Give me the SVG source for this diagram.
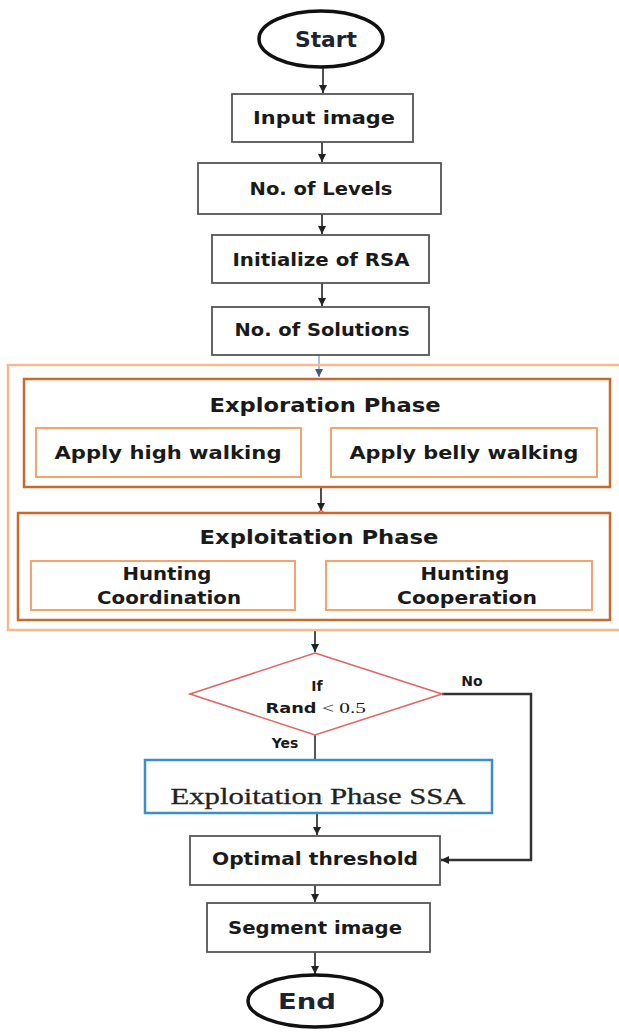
<svg xmlns="http://www.w3.org/2000/svg" width="619" height="1035" viewBox="0 0 619 1035">
<defs>
<marker id="ah" viewBox="0 0 10 10" refX="10" refY="5" markerWidth="8" markerHeight="8" markerUnits="userSpaceOnUse" orient="auto">
<path d="M0,0 L10,5 L0,10 z" fill="#222"/>
</marker>
<marker id="ahb" viewBox="0 0 10 10" refX="10" refY="5" markerWidth="8" markerHeight="8" markerUnits="userSpaceOnUse" orient="auto">
<path d="M0,0 L10,5 L0,10 z" fill="#3d5a8a"/>
</marker>
<style>
.box{fill:#fff;stroke:#555;stroke-width:1.8}
.term{fill:#fff;stroke:#111;stroke-width:3.5}
.outer{fill:none;stroke:#f6b98e;stroke-width:2.5}
.phase{fill:#fff;stroke:#c8692e;stroke-width:2.5}
.sub{fill:#fff;stroke:#f4a46a;stroke-width:2}
.dia{fill:#fff;stroke:#e06666;stroke-width:1.6}
.blue{fill:#fff;stroke:#3b8fc8;stroke-width:2.5}
.t{font-family:"DejaVu Sans",sans-serif;font-weight:bold;font-size:17px;fill:#1a1a1a;text-anchor:middle}
.tl{font-family:"DejaVu Sans",sans-serif;font-weight:bold;font-size:19px;fill:#1a1a1a;text-anchor:middle}
.tt{font-family:"DejaVu Sans",sans-serif;font-weight:bold;font-size:22px;fill:#1c2333;text-anchor:middle}
.ts{font-family:"DejaVu Sans",sans-serif;font-weight:bold;font-size:14px;fill:#1a1a1a;text-anchor:middle}
.serif{font-family:"Liberation Serif",serif;font-size:24px;fill:#222;text-anchor:middle;stroke:#222;stroke-width:0.3}
.c{fill:none;stroke:#222;stroke-width:1.6}
</style>
</defs>

<g id="connectors">
<line class="c" x1="323" y1="68" x2="323" y2="93" marker-end="url(#ah)"/>
<line class="c" x1="322" y1="142" x2="322" y2="162" marker-end="url(#ah)"/>
<line class="c" x1="322" y1="214" x2="322" y2="234" marker-end="url(#ah)"/>
<line class="c" x1="322" y1="283" x2="322" y2="306" marker-end="url(#ah)"/>
<line x1="319" y1="355" x2="319" y2="377" stroke="#9bb0cc" stroke-width="1.6" marker-end="url(#ahb)"/>
<line class="c" x1="321" y1="487" x2="321" y2="511" marker-end="url(#ah)"/>
<path d="M317,514 L321,510 L325,514" fill="none" stroke="#e04040" stroke-width="1.2"/>
<line class="c" x1="301" y1="452" x2="329" y2="452" marker-end="url(#ah)"/>
<line x1="295" y1="587" x2="325" y2="587" stroke="#888" stroke-width="1.8" marker-end="url(#ah)"/>
<line class="c" x1="315" y1="631" x2="315" y2="652" marker-end="url(#ah)"/>
<line x1="315" y1="735" x2="315" y2="760" stroke="#444" stroke-width="1.8"/>
<path d="M442,694 L531,694 L531,860 L441,860" fill="none" stroke="#333" stroke-width="2.5" marker-end="url(#ah)"/>
<line class="c" x1="317" y1="813" x2="317" y2="835" marker-end="url(#ah)"/>
<line class="c" x1="315" y1="885" x2="315" y2="902" marker-end="url(#ah)"/>
<line class="c" x1="315" y1="952" x2="315" y2="974" marker-end="url(#ah)"/>
</g>

<g id="start">
<ellipse class="term" cx="321" cy="39" rx="62" ry="28"/>
<text class="tt" x="326" y="47" textLength="62" lengthAdjust="spacingAndGlyphs">Start</text>
</g>
<g id="input-image">
<rect class="box" x="232" y="94" width="181" height="48"/>
<text class="t" x="324" y="124" textLength="142" lengthAdjust="spacingAndGlyphs">Input image</text>
</g>
<g id="no-levels">
<rect class="box" x="198" y="163" width="243" height="51"/>
<text class="t" x="321" y="195" textLength="143" lengthAdjust="spacingAndGlyphs">No. of Levels</text>
</g>
<g id="init-rsa">
<rect class="box" x="212" y="235" width="217" height="48"/>
<text class="t" x="321" y="266" textLength="177" lengthAdjust="spacingAndGlyphs">Initialize of RSA</text>
</g>
<g id="no-solutions">
<rect class="box" x="212" y="307" width="217" height="48"/>
<text class="t" x="322" y="336" textLength="175" lengthAdjust="spacingAndGlyphs">No. of Solutions</text>
</g>

<g id="rsa-container">
<rect class="outer" x="8" y="365" width="625" height="265"/>
</g>

<g id="exploration-phase">
<rect class="phase" x="24" y="379" width="586" height="108"/>
<text class="tl" x="325" y="412" textLength="231" lengthAdjust="spacingAndGlyphs">Exploration Phase</text>
</g>
<g id="high-walking">
<rect class="sub" x="36" y="428" width="265" height="49"/>
<text class="t" x="168" y="459" textLength="227" lengthAdjust="spacingAndGlyphs">Apply high walking</text>
</g>
<g id="belly-walking">
<rect class="sub" x="331" y="428" width="266" height="49"/>
<text class="t" x="464" y="459" textLength="229" lengthAdjust="spacingAndGlyphs">Apply belly walking</text>
</g>

<g id="exploitation-phase">
<rect class="phase" x="18" y="513" width="592" height="107"/>
<text class="tl" x="319" y="544" textLength="239" lengthAdjust="spacingAndGlyphs">Exploitation Phase</text>
</g>
<g id="hunting-coordination">
<rect class="sub" x="31" y="561" width="264" height="49"/>
<text class="t" x="167" y="580" textLength="89" lengthAdjust="spacingAndGlyphs">Hunting</text>
<text class="t" x="169" y="604" textLength="144" lengthAdjust="spacingAndGlyphs">Coordination</text>
</g>
<g id="hunting-cooperation">
<rect class="sub" x="326" y="561" width="266" height="49"/>
<text class="t" x="465" y="580" textLength="89" lengthAdjust="spacingAndGlyphs">Hunting</text>
<text class="t" x="467" y="604" textLength="140" lengthAdjust="spacingAndGlyphs">Cooperation</text>
</g>

<g id="decision">
<polygon class="dia" points="315,653 442,694 315,735 190,694"/>
<text class="ts" x="317" y="691">If</text>
<text class="ts" x="291" y="713" textLength="51" lengthAdjust="spacingAndGlyphs">Rand</text>
<text x="344" y="713" font-family="Liberation Serif,serif" font-size="14" fill="#1a1a1a" text-anchor="middle" textLength="44" lengthAdjust="spacingAndGlyphs">&lt; 0.5</text>
<text class="ts" x="472" y="686">No</text>
<text class="ts" x="285" y="748">Yes</text>
</g>

<g id="exploitation-ssa">
<rect class="blue" x="145" y="760" width="347" height="53"/>
<text class="serif" x="318" y="804" textLength="295" lengthAdjust="spacingAndGlyphs">Exploitation Phase SSA</text>
</g>
<g id="optimal-threshold">
<rect class="box" x="190" y="836" width="250" height="49"/>
<text class="t" x="315" y="865" textLength="206" lengthAdjust="spacingAndGlyphs">Optimal threshold</text>
</g>
<g id="segment-image">
<rect class="box" x="207" y="903" width="223" height="49"/>
<text class="t" x="315" y="934" textLength="174" lengthAdjust="spacingAndGlyphs">Segment image</text>
</g>
<g id="end">
<ellipse class="term" cx="315" cy="1001" rx="67" ry="26"/>
<text class="tt" x="307" y="1009" textLength="58" lengthAdjust="spacingAndGlyphs">End</text>
</g>
</svg>
